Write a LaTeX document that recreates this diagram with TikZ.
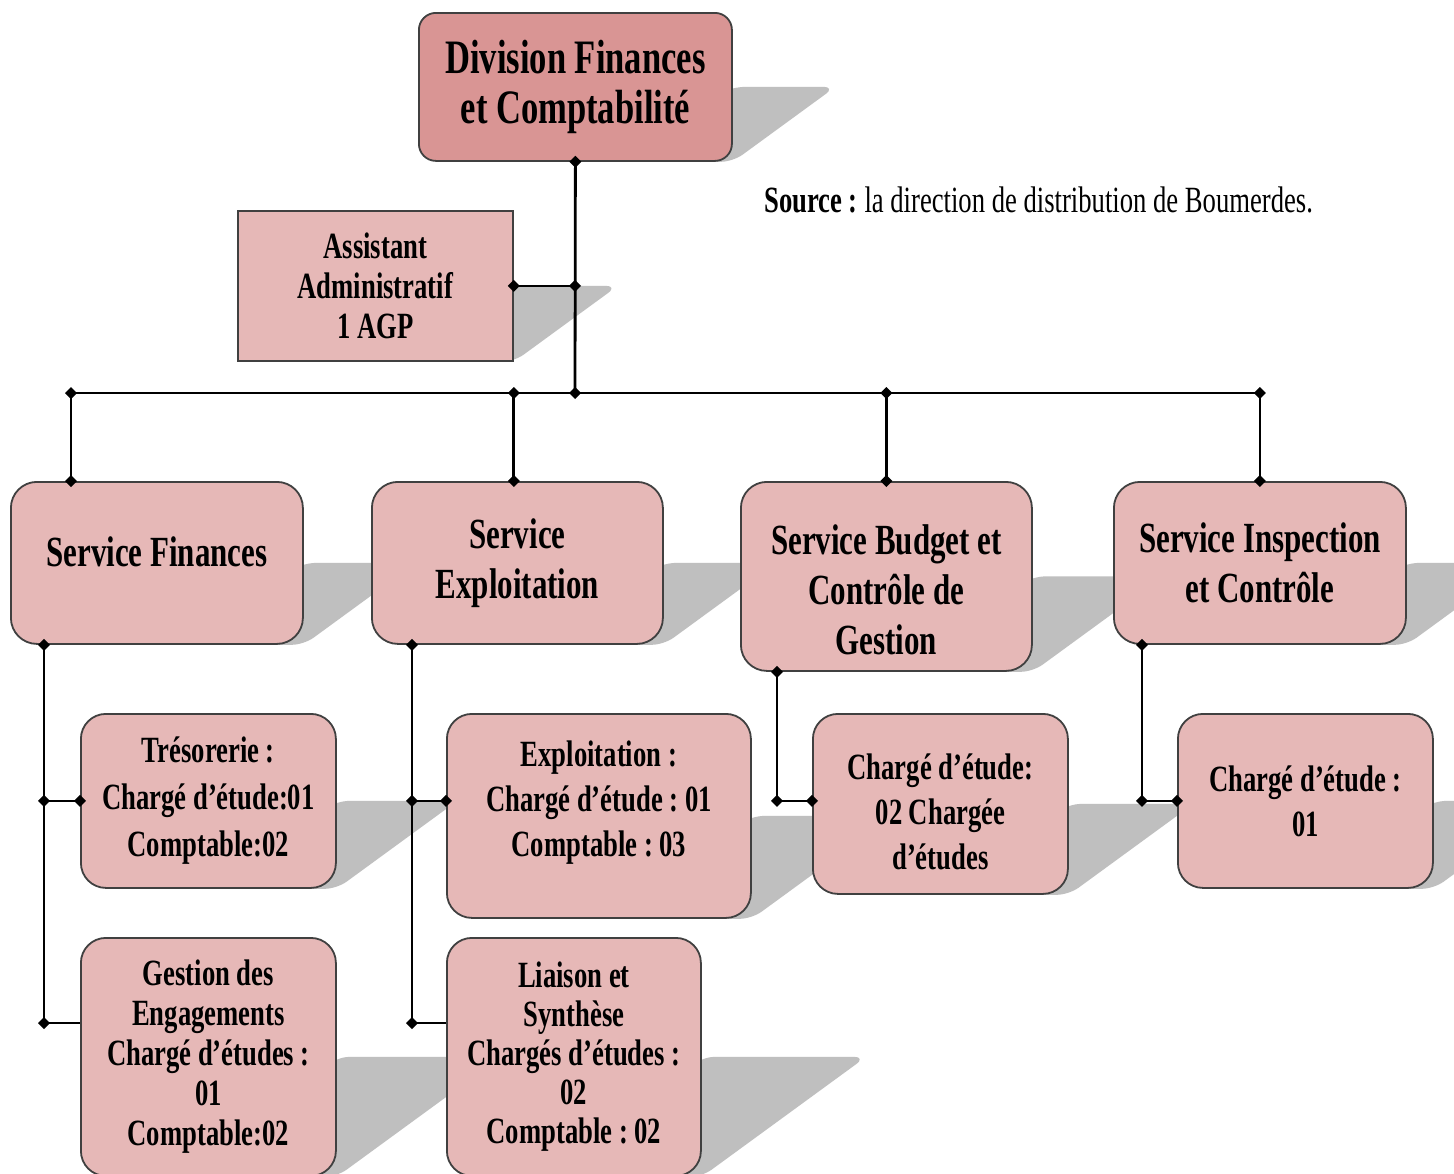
\documentclass[tikz,border=0pt]{standalone}
\usepackage{fontspec}
\setmainfont{Liberation Serif}[FakeStretch=0.72]
\usetikzlibrary{calc,backgrounds}
\frenchspacing

\definecolor{headfill}{HTML}{D99594}
\definecolor{unitfill}{HTML}{E6B8B7}
\definecolor{edgegray}{HTML}{404040}
\definecolor{shadegray}{HTML}{BFBFBF}

\newcommand\fsz[2]{\fontsize{#1}{#2}\selectfont\bfseries}
% struts to move a box text up or down
\newcommand\padtop[1]{\rule{0pt}{#1}}
\newcommand\padbot[1]{\rule[-#1]{0pt}{#1}}
% perspective shadow behind a box
\newcommand\castshadow[1]{%
  \fill[shadegray, rounded corners=6pt] let \p1=(#1.east), \p2=(#1.south east) in
    (\p1) -- ({\x1+1.37*(\y1-\y2)},\y1) -- (\p2) -- (#1.south) -- cycle;}
% junction mark
\newcommand\jdot[1]{\fill (#1) +(-6,0) -- +(0,-6) -- +(6,0) -- +(0,6) -- cycle;}

\begin{document}
\begin{tikzpicture}[
  x=0.5pt, y=-0.5pt,
  font=\fsz{18.5}{23},
  wh/.style 2 args={minimum width=#1*0.5pt, minimum height=#2*0.5pt},
  box/.style={draw=edgegray, line width=0.9pt, fill=unitfill, align=center,
              inner sep=2pt, anchor=north west},
  head/.style={box, fill=headfill, rounded corners=8.5pt, font=\fsz{24}{25}},
  service/.style={box, rounded corners=13pt, font=\fsz{21.5}{25}},
  post/.style={box, rounded corners=12.5pt},
  link/.style={line width=1.4pt, draw=black},
  note/.style={anchor=west, inner sep=0pt, font=\fontsize{18.5}{22}\selectfont},
]
\useasboundingbox (0,0) rectangle (1454,1173);
\clip (0,0) rectangle (1454,1173);

% ---- division and assistant ----
\node[head, wh={313}{148}] (div) at (418,12) {Division Finances\\et Comptabilité};
\node[box, wh={275}{150}, font=\fsz{18.5}{20}] (asst) at (237,210) {Assistant\\Administratif\\1 AGP};
\node[note] (src) at (764,200) {\textbf{Source :} la direction de distribution de Boumerdes.};

% ---- services ----
\node[service, wh={292}{162}] (fin) at (10,481) {Service Finances\padbot{11pt}};
\node[service, wh={291}{162}] (expl) at (371,481) {Service\\Exploitation};
\node[service, wh={291}{189}] (budg) at (740,481) {\padtop{28.7pt}Service Budget et\\Contrôle de\\Gestion};
\node[service, wh={292}{162}] (insp) at (1113,481) {Service Inspection\\et Contrôle};

% ---- posts ----
\node[post, wh={255}{174}, font=\fsz{18.5}{23.5}] (tres) at (80,713)
      {Trésorerie :\\Chargé d’étude:01\\Comptable:02};
\node[post, wh={255}{238}, font=\fsz{18.5}{20}] (gest) at (80,937)
      {Gestion des\\Engagements\\Chargé d’études :\\01\\Comptable:02};
\node[post, wh={304}{204}, font=\fsz{18.5}{22.5}] (expc) at (446,713)
      {Exploitation :\\Chargé d’étude : 01\\Comptable : 03\padbot{17pt}};
\node[post, wh={254}{238}, font=\fsz{18.5}{19.5}] (liai) at (446,937)
      {Liaison et\\Synthèse\\Chargés d’études :\\02\\Comptable : 02};
\node[post, wh={255}{180}, font=\fsz{18.5}{22.5}] (budc) at (812,713)
      {\padtop{20.6pt}Chargé d’étude:\\02 Chargée\\d’études};
\node[post, wh={255}{174}, font=\fsz{18.5}{22.5}] (insc) at (1177,713)
      {Chargé d’étude :\\01};

% ---- shadows ----
\begin{scope}[on background layer]
  \fill[white] (0,0) rectangle (1454,1173);
  \foreach \b in {div,asst,fin,expl,budg,insp,tres,gest,expc,liai,budc,insc}
    \castshadow{\b};
\end{scope}

% ---- connectors ----
\coordinate (bus) at (575,393);
\coordinate (finT) at ($(fin.north west)+(61,0)$);
\coordinate (finB) at ($(fin.south west)+(34,0)$);
\coordinate (explB) at ($(expl.south west)+(41,0)$);
\coordinate (budgB) at ($(budg.south west)+(37,0)$);
\coordinate (inspB) at ($(insp.south west)+(29,0)$);
\coordinate (lowrow) at ($(gest.north west)+(0,86)$);

\draw[link] (div.south) -- (bus);
\draw[link] (asst.east) -- (asst.east -| bus);
\draw[link] (finT |- bus) -- (insp.north |- bus);
\draw[link] (finT |- bus) -- (finT);
\draw[link] (asst.east |- bus) -- (asst.east |- expl.north);
\draw[link] (budg.north |- bus) -- (budg.north);
\draw[link] (insp.north |- bus) -- (insp.north);
\draw[link] (finB) |- (gest.west |- lowrow);
\draw[link] (finB |- tres.west) -- (tres.west);
\draw[link] (explB) |- (liai.west |- lowrow);
\draw[link] (explB |- tres.west) -- (expc.west |- tres.west);
\draw[link] (budgB) |- (budc.west |- tres.west);
\draw[link] (inspB) |- (insc.west |- tres.west);

\foreach \p in {div.south, asst.east, asst.east -| bus, bus, finT |- bus,
                asst.east |- bus, budg.north |- bus, insp.north |- bus, finT,
                asst.east |- expl.north, budg.north, insp.north,
                finB, finB |- tres.west, tres.west, finB |- lowrow,
                explB, explB |- tres.west, expc.west |- tres.west, explB |- lowrow,
                budgB, budgB |- tres.west, budc.west |- tres.west,
                inspB, inspB |- tres.west, insc.west |- tres.west}
  \jdot{\p};
\end{tikzpicture}
\end{document}
